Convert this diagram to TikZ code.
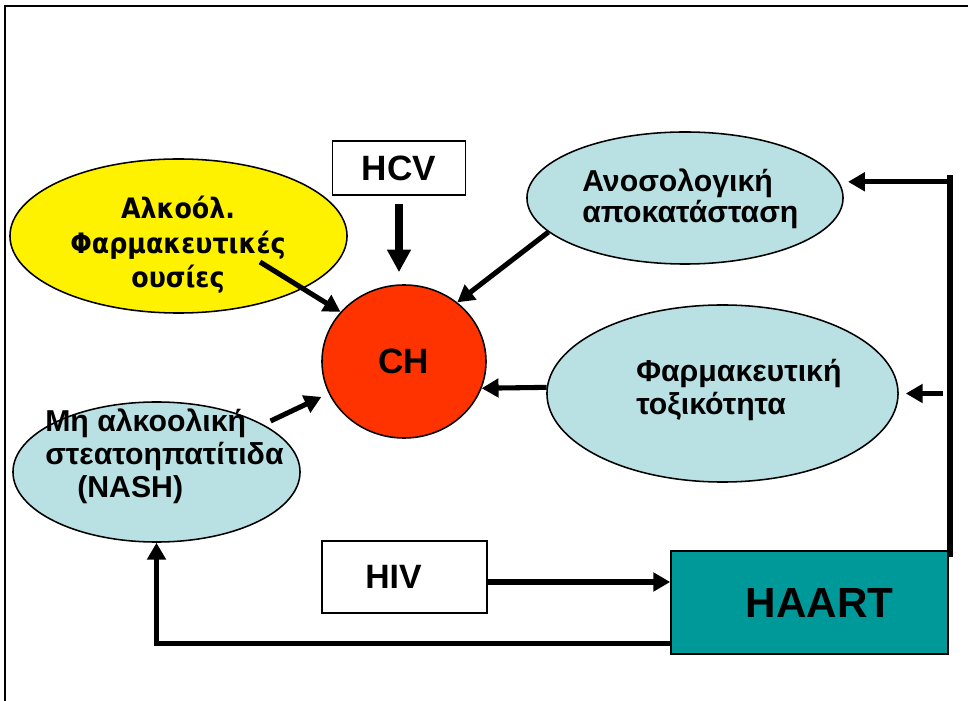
\documentclass[tikz,border=0pt]{standalone}
\usepackage{fontspec}
\setmainfont{Liberation Sans}
\newfontfamily\verdanafont{DejaVu Sans Condensed}[BoldFont={DejaVu Sans Condensed Bold}]
\usetikzlibrary{shapes.geometric,arrows.meta}

\definecolor{paleblue}{RGB}{185,224,227}
\definecolor{haartteal}{RGB}{0,153,153}
\definecolor{chred}{RGB}{255,51,0}

\tikzset{
  blob/.style={ellipse,draw,line width=1.1pt,inner sep=0pt},
  tag/.style={draw,line width=1.1pt,inner sep=0pt,font=\bfseries\fontsize{25}{30}\selectfont},
  greek/.style={inner sep=0pt,align=left,font=\bfseries\fontsize{21.5}{23.5}\selectfont},
  arr/.style={line width=3.6pt,-{Triangle[length=12pt,width=13pt]}},
}

\begin{document}
\begin{tikzpicture}[x=0.025cm,y=-0.025cm]

\useasboundingbox (0,0) rectangle (968,701);

\draw[line width=2pt] (4,6) -- (968,6);
\draw[line width=1.2pt] (5,6) -- (5,701);

\node[blob,fill=yellow,minimum width=8.425cm,minimum height=3.85cm] (alc) at (178.5,236) {};
\node[inner sep=0pt,align=center,font=\verdanafont\bfseries\fontsize{20}{24.5}\selectfont] (alcText) at (178,245) {Αλκοόλ.\\Φαρμακευτικές\\ουσίες};

\node[tag,minimum width=3.325cm,minimum height=1.35cm] (hcv) at (399,168) {HCV};

\node[blob,fill=chred,minimum width=4.1cm,minimum height=3.825cm,font=\bfseries\fontsize{25}{30}\selectfont] (ch) at (404,361.5) {CH};

\node[blob,fill=paleblue,minimum width=7.9cm,minimum height=3.3cm] (immune) at (685,198) {};
\node[greek,anchor=west,font=\bfseries\fontsize{21.5}{22}\selectfont] (immuneText) at (582,199) {Ανοσολογική\\αποκατάσταση};

\node[blob,fill=paleblue,minimum width=8.775cm,minimum height=4.425cm] (pharm) at (722.5,393.5) {};
\node[greek,anchor=west] (pharmText) at (636,390) {Φαρμακευτική\\τοξικότητα};

\node[blob,fill=paleblue,minimum width=7.175cm,minimum height=3.5cm] (nash) at (156.5,472) {};
\node[greek,anchor=west] (nashText) at (45,456) {Μη αλκοολική\\στεατοηπατίτιδα\\\hspace*{0.8cm}(NASH)};

\node[tag,minimum width=4.125cm,minimum height=1.8cm,font=\bfseries\fontsize{24}{29}\selectfont] (hiv) at (404.5,577) {HIV\hspace*{0.55cm}\mbox{}};

\node[tag,fill=haartteal,minimum width=6.925cm,minimum height=2.575cm,font=\bfseries\fontsize{30}{36}\selectfont] (haart) at (809.5,602.5) {\hspace{0.5cm}HAART};

% arrows into CH
\coordinate (alcTail) at (260,262);
\draw[arr,line width=5pt,-{Triangle[length=16pt,width=16pt]},shorten <=0.2cm,shorten >=0.3cm] (hcv.south) -- (hcv.south |- ch.north);
\draw[arr] (alcTail) -- (ch.142);
\draw[arr] (immune.194) -- (ch.48);
\draw[arr] (pharm.178) -- (ch.-19);
\draw[arr,shorten <=0.2cm,shorten >=0.2cm] (nash.24) -- (ch.203);

% HAART feedback
\coordinate (trunkTop) at (950,175);
\coordinate (trunkBot) at (950,557);
\draw[line width=4.6pt] (trunkBot) -- (trunkTop);
\draw[arr,shorten >=0.225cm] (trunkTop |- immune.6) -- (immune.6);
\draw[arr,shorten <=0.175cm,shorten >=0.175cm] (trunkTop |- pharm.east) -- (pharm.east);

\draw[arr] ([yshift=-0.125cm]hiv.east) -- ([yshift=-0.125cm]hiv.east -| haart.west);
\draw[arr] ([yshift=0.275cm]haart.south west) -| (nash.south);

\end{tikzpicture}
\end{document}
